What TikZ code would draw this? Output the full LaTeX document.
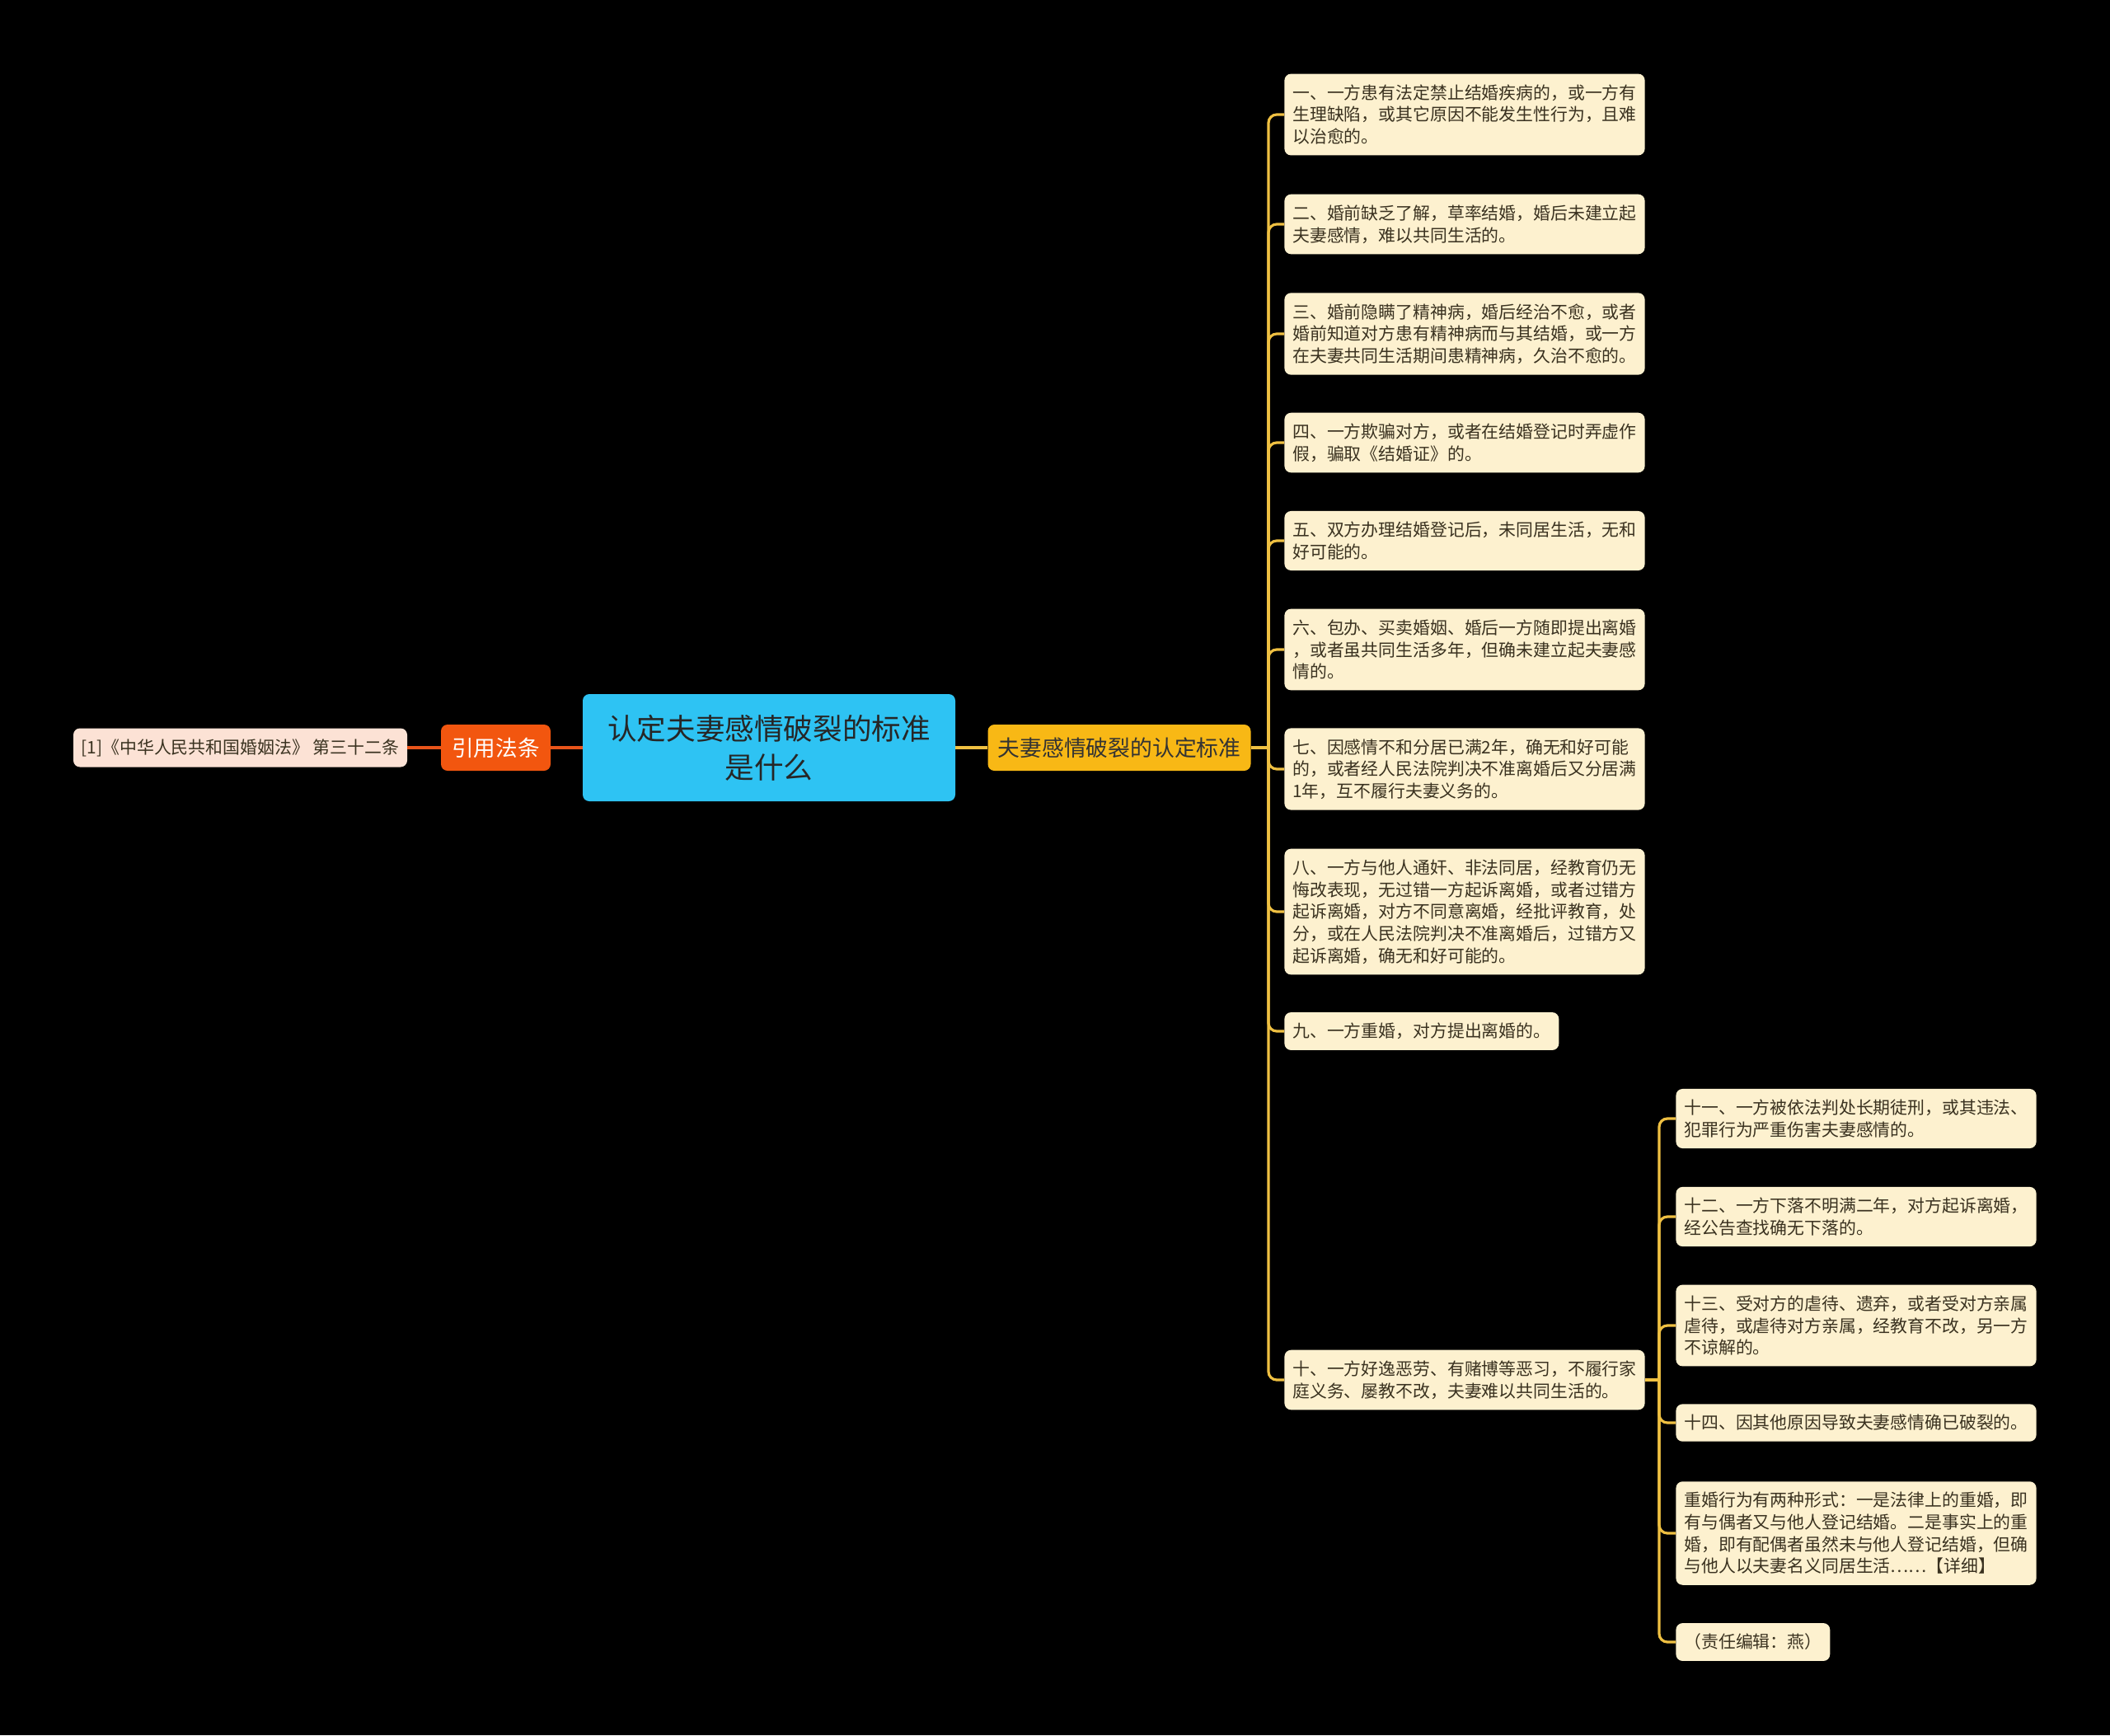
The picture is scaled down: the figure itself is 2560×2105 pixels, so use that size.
\documentclass[tikz,border=0pt]{standalone}
\usepackage{fontspec}
\setmainfont{Noto Sans CJK SC}
\usepackage{xcolor}
\usetikzlibrary{positioning}
\definecolor{topicblue}{HTML}{2EC3F3}
\definecolor{citered}{HTML}{F2560F}
\definecolor{stdgold}{HTML}{F8B815}
\definecolor{leafcream}{HTML}{FDF1CF}
\definecolor{refpeach}{HTML}{FCE2D5}
\definecolor{linegold}{HTML}{EFC042}
\definecolor{linered}{HTML}{E8541A}
\definecolor{leaftext}{HTML}{3A3220}

\begin{document}
\begin{tikzpicture}[x=0.5pt, y=-0.5pt,
  topic/.style={rectangle, rounded corners=4pt, fill=topicblue, text=black!85,
    minimum width=226pt, minimum height=65pt, align=center,
    font=\fontsize{17.8}{23.5}\selectfont},
  cite/.style={rectangle, rounded corners=4pt, fill=citered, text=white,
    minimum width=66.5pt, minimum height=28pt, inner sep=0pt,
    font=\fontsize{13.3}{16}\selectfont},
  stdbox/.style={rectangle, rounded corners=4pt, fill=stdgold, text=black!80,
    minimum width=159.5pt, minimum height=28pt, inner sep=0pt,
    font=\fontsize{13.4}{16}\selectfont},
  refbox/.style={rectangle, rounded corners=4pt, fill=refpeach, text=leaftext,
    minimum width=202.5pt, minimum height=23.5pt, inner sep=0pt,
    font=\fontsize{10.45}{13.35}\selectfont},
  leaf/.style={rectangle, rounded corners=4pt, fill=leafcream, text=leaftext,
    anchor=west, align=left, inner xsep=5pt, inner ysep=6.5pt,
    font=\fontsize{10.43}{13.35}\selectfont},
  goldline/.style={line width=1.6pt, linegold, rounded corners=5pt},
  redline/.style={line width=1.6pt, linered}
]
\fill[black] (0,0) rectangle (2560,2105);
\useasboundingbox (0,0) rectangle (2560,2105);

% centre and left side
\node[topic] (root) at (933,907) {认定夫妻感情破裂的标准\\是什么};
\node[cite] (cite) at (601.5,907) {引用法条};
\node[refbox] (ref) at (291.5,907) {[1]《中华人民共和国婚姻法》 第三十二条};
\draw[redline] (root.west) -- (cite.east);
\draw[redline] (cite.west) -- (ref.east);

% right side
\node[stdbox] (std) at (1358,907) {夫妻感情破裂的认定标准};
\draw[goldline] (root.east) -- (std.west);

\node[leaf] (c1) at (1558,139) {一、一方患有法定禁止结婚疾病的，或一方有\\生理缺陷，或其它原因不能发生性行为，且难\\以治愈的。};
\node[leaf] (c2) at (1558,272) {二、婚前缺乏了解，草率结婚，婚后未建立起\\夫妻感情，难以共同生活的。};
\node[leaf] (c3) at (1558,405) {三、婚前隐瞒了精神病，婚后经治不愈，或者\\婚前知道对方患有精神病而与其结婚，或一方\\在夫妻共同生活期间患精神病，久治不愈的。};
\node[leaf] (c4) at (1558,537) {四、一方欺骗对方，或者在结婚登记时弄虚作\\假，骗取《结婚证》的。};
\node[leaf] (c5) at (1558,656) {五、双方办理结婚登记后，未同居生活，无和\\好可能的。};
\node[leaf] (c6) at (1558,788) {六、包办、买卖婚姻、婚后一方随即提出离婚\\，或者虽共同生活多年，但确未建立起夫妻感\\情的。};
\node[leaf] (c7) at (1558,933) {七、因感情不和分居已满2年，确无和好可能\\的，或者经人民法院判决不准离婚后又分居满\\1年，互不履行夫妻义务的。};
\node[leaf] (c8) at (1558,1106) {八、一方与他人通奸、非法同居，经教育仍无\\悔改表现，无过错一方起诉离婚，或者过错方\\起诉离婚，对方不同意离婚，经批评教育，处\\分，或在人民法院判决不准离婚后，过错方又\\起诉离婚，确无和好可能的。};
\node[leaf] (c9) at (1558,1251) {九、一方重婚，对方提出离婚的。};
\node[leaf] (c10) at (1558,1674) {十、一方好逸恶劳、有赌博等恶习，不履行家\\庭义务、屡教不改，夫妻难以共同生活的。};

\coordinate (rs) at (1539,907);
\draw[goldline] (std.east) -- (rs);
\foreach \i in {1,...,10}
  \draw[goldline] (rs) |- (c\i.west);

% under item ten
\node[leaf] (d11) at (2033,1357) {十一、一方被依法判处长期徒刑，或其违法、\\犯罪行为严重伤害夫妻感情的。};
\node[leaf] (d12) at (2033,1476) {十二、一方下落不明满二年，对方起诉离婚，\\经公告查找确无下落的。};
\node[leaf] (d13) at (2033,1608) {十三、受对方的虐待、遗弃，或者受对方亲属\\虐待，或虐待对方亲属，经教育不改，另一方\\不谅解的。};
\node[leaf] (d14) at (2033,1726) {十四、因其他原因导致夫妻感情确已破裂的。};
\node[leaf] (d15) at (2033,1860) {重婚行为有两种形式：一是法律上的重婚，即\\有与偶者又与他人登记结婚。二是事实上的重\\婚，即有配偶者虽然未与他人登记结婚，但确\\与他人以夫妻名义同居生活……【详细】};
\node[leaf] (d16) at (2033,1992) {（责任编辑：燕）};

\coordinate (ss) at (2013,1674);
\draw[goldline] (c10.east) -- (ss);
\foreach \j in {11,...,16}
  \draw[goldline] (ss) |- (d\j.west);
\end{tikzpicture}
\end{document}
